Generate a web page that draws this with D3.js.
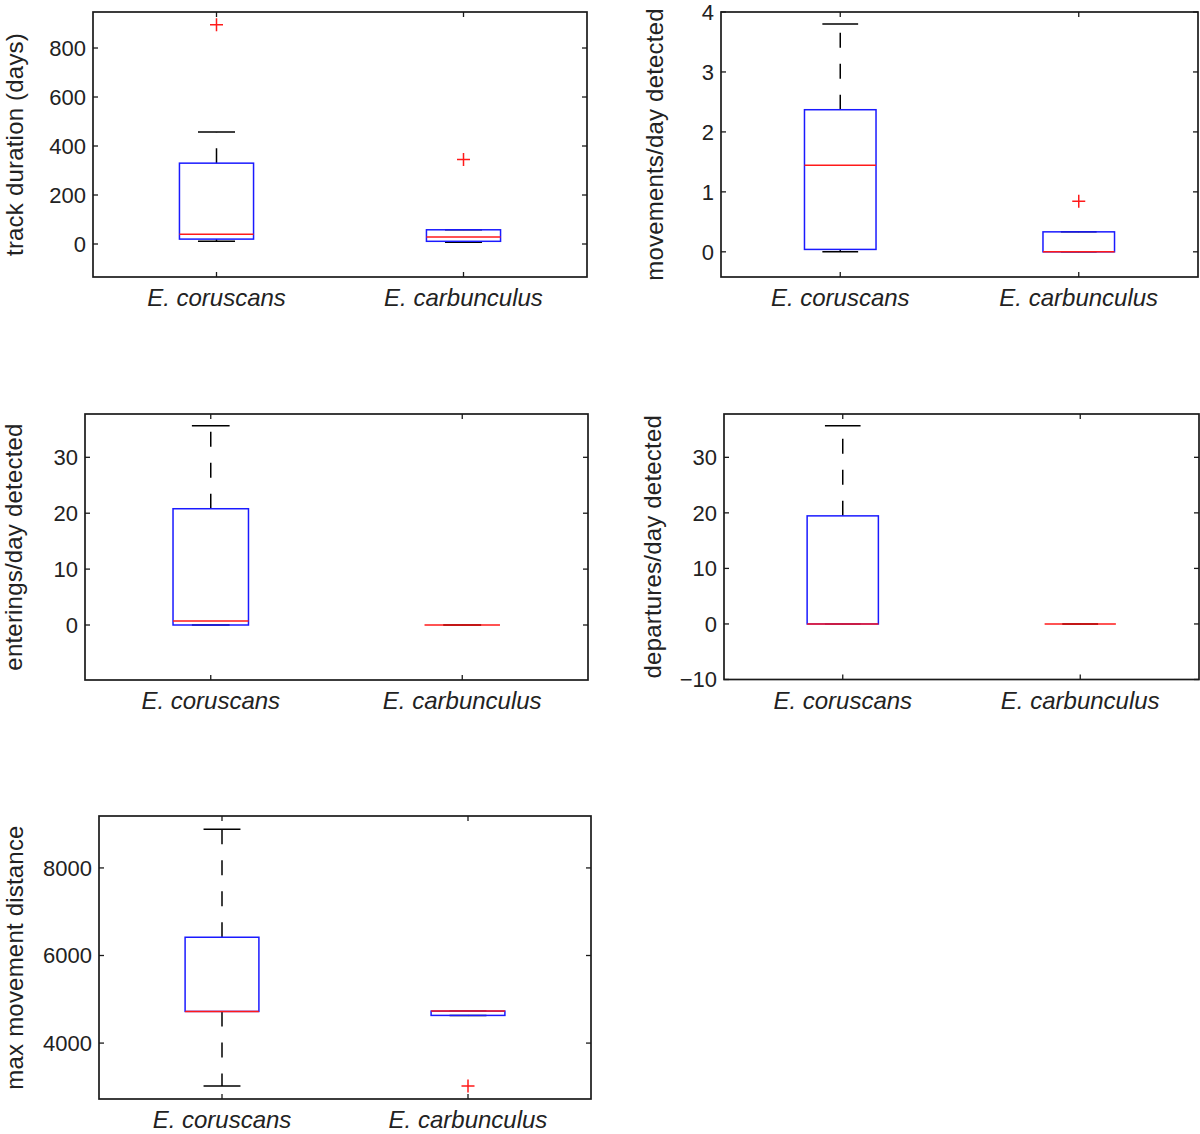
<!DOCTYPE html>
<html>
<head>
<meta charset="utf-8">
<script src="https://cdn.jsdelivr.net/npm/d3@7"></script>
<style>
  html, body { margin: 0; padding: 0; background: #fff; }
  svg { display: block; }
  text { font-family: "Liberation Sans", Arial, Helvetica, sans-serif; fill: #222; }
</style>
</head>
<body>
<svg id="chart" width="1200" height="1134"></svg>
<script>
// ---------------- data ----------------
const categories = ["E. coruscans", "E. carbunculus"];

const yLabels = [
  "track duration (days)",
  "movements/day detected",
  "enterings/day detected",
  "departures/day detected",
  "max movement distance"
];

// box statistics: [lowerWhisker, q1, median, q3, upperWhisker], per category
const trackDurationStats   = [[11, 20, 40, 330, 457], [7, 11, 29, 58, 58]];
const trackDurationOut     = [[895], [345]];

const movementsStats       = [[0, 0.04, 1.445, 2.37, 3.8], [0, 0, 0, 0.333, 0.333]];
const movementsOut         = [[], [0.845]];

const enteringsStats       = [[0, 0, 0.72, 20.8, 35.65], [0, 0, 0, 0, 0]];
const enteringsOut         = [[], []];

const departuresStats      = [[0, 0, 0, 19.46, 35.7], [0, 0, 0, 0, 0]];
const departuresOut        = [[], []];

const maxDistanceStats     = [[3019, 4723, 4723, 6417, 8883], [4632, 4632, 4730, 4730, 4730]];
const maxDistanceOut       = [[], [3019]];

const trackDurationTicks = [0, 200, 400, 600, 800];
const movementsTicks     = [0, 1, 2, 3, 4];
const enteringsTicks     = [0, 10, 20, 30];
const departuresTicks    = [-10, 0, 10, 20, 30];
const maxDistanceTicks   = [4000, 6000, 8000];

const yDomains = [[-134.7, 947], [-0.42, 4], [-9.84, 37.75], [-10, 37.8], [2723, 9186]];

// ---------------- layout ----------------
const layouts = [
  {left: 93,  right: 587,  top: 12,  bottom: 277,   labelX: 14.5},
  {left: 721, right: 1198, top: 12,  bottom: 277,   labelX: 654},
  {left: 85,  right: 588,  top: 414, bottom: 680,   labelX: 13},
  {left: 724, right: 1199, top: 414, bottom: 679.5, labelX: 652},
  {left: 99,  right: 591,  top: 816, bottom: 1099,  labelX: 14.5}
];

const panels = [
  {stats: trackDurationStats, out: trackDurationOut, ticks: trackDurationTicks},
  {stats: movementsStats,     out: movementsOut,     ticks: movementsTicks},
  {stats: enteringsStats,     out: enteringsOut,     ticks: enteringsTicks},
  {stats: departuresStats,    out: departuresOut,    ticks: departuresTicks},
  {stats: maxDistanceStats,   out: maxDistanceOut,   ticks: maxDistanceTicks}
];

const svg = d3.select("#chart");
const BLUE = "#1a1aff", RED = "#ff1a1a", AXIS = "#1a1a1a";
const tickLen = 5;
const boxHalf = 0.15, capHalf = 0.075;
const fmt = d3.format("");

panels.forEach((p, i) => {
  const L = layouts[i];
  const x = d3.scaleLinear().domain([0.5, 2.5]).range([L.left, L.right]);
  const y = d3.scaleLinear().domain(yDomains[i]).range([L.bottom, L.top]);
  const g = svg.append("g");

  const clipId = "clip" + i;
  svg.append("clipPath").attr("id", clipId).append("rect")
    .attr("x", L.left).attr("y", L.top)
    .attr("width", L.right - L.left).attr("height", L.bottom - L.top);

  const marks = g.append("g").attr("clip-path", `url(#${clipId})`);

  p.stats.forEach((s, ci) => {
    const cx = x(ci + 1);
    const [lw, q1, med, q3, uw] = s;
    marks.append("line")
      .attr("x1", cx).attr("x2", cx).attr("y1", y(q3)).attr("y2", y(uw))
      .attr("stroke", "#000").attr("stroke-width", 1.5).attr("stroke-dasharray", "15,16");
    marks.append("line")
      .attr("x1", cx).attr("x2", cx).attr("y1", y(q1)).attr("y2", y(lw))
      .attr("stroke", "#000").attr("stroke-width", 1.5).attr("stroke-dasharray", "15,16");
    [lw, uw].forEach(v => {
      marks.append("line")
        .attr("x1", x(ci + 1 - capHalf)).attr("x2", x(ci + 1 + capHalf))
        .attr("y1", y(v)).attr("y2", y(v))
        .attr("stroke", "#000").attr("stroke-width", 1.5);
    });
    marks.append("rect")
      .attr("x", x(ci + 1 - boxHalf)).attr("width", x(ci + 1 + boxHalf) - x(ci + 1 - boxHalf))
      .attr("y", y(q3)).attr("height", Math.max(0, y(q1) - y(q3)))
      .attr("fill", "none").attr("stroke", BLUE).attr("stroke-width", 1.5);
    marks.append("line")
      .attr("x1", x(ci + 1 - boxHalf)).attr("x2", x(ci + 1 + boxHalf))
      .attr("y1", y(med)).attr("y2", y(med))
      .attr("stroke", RED).attr("stroke-width", 1.5);
    p.out[ci].forEach(v => {
      const oy = y(v);
      marks.append("path")
        .attr("d", `M${cx - 6.5},${oy}H${cx + 6.5}M${cx},${oy - 6.5}V${oy + 6.5}`)
        .attr("stroke", RED).attr("stroke-width", 1.5).attr("fill", "none");
    });
  });

  g.append("rect")
    .attr("x", L.left).attr("y", L.top)
    .attr("width", L.right - L.left).attr("height", L.bottom - L.top)
    .attr("fill", "none").attr("stroke", AXIS).attr("stroke-width", 1.7);

  p.ticks.forEach(t => {
    const ty = y(t);
    g.append("line").attr("x1", L.left).attr("x2", L.left + tickLen)
      .attr("y1", ty).attr("y2", ty).attr("stroke", AXIS).attr("stroke-width", 1.3);
    g.append("line").attr("x1", L.right).attr("x2", L.right - tickLen)
      .attr("y1", ty).attr("y2", ty).attr("stroke", AXIS).attr("stroke-width", 1.3);
    g.append("text")
      .attr("x", L.left - 7).attr("y", ty).attr("dy", "0.36em")
      .attr("text-anchor", "end")
      .style("font-size", "22px")
      .text(fmt(t).replace("-", "\u2212"));
  });

  categories.forEach((c, ci) => {
    const cx = x(ci + 1);
    g.append("line").attr("x1", cx).attr("x2", cx)
      .attr("y1", L.bottom).attr("y2", L.bottom - tickLen).attr("stroke", AXIS).attr("stroke-width", 1.3);
    g.append("line").attr("x1", cx).attr("x2", cx)
      .attr("y1", L.top).attr("y2", L.top + tickLen).attr("stroke", AXIS).attr("stroke-width", 1.3);
    g.append("text")
      .attr("x", cx).attr("y", L.bottom + 29)
      .attr("text-anchor", "middle")
      .style("font-size", "24px").style("font-style", "italic")
      .text(c);
  });

  g.append("text")
    .attr("transform", `translate(${L.labelX},${(L.top + L.bottom) / 2}) rotate(-90)`)
    .attr("text-anchor", "middle")
    .attr("dominant-baseline", "central")
    .style("font-size", "24px").style("letter-spacing", "0.2px")
    .text(yLabels[i]);
});
</script>
</body>
</html>
